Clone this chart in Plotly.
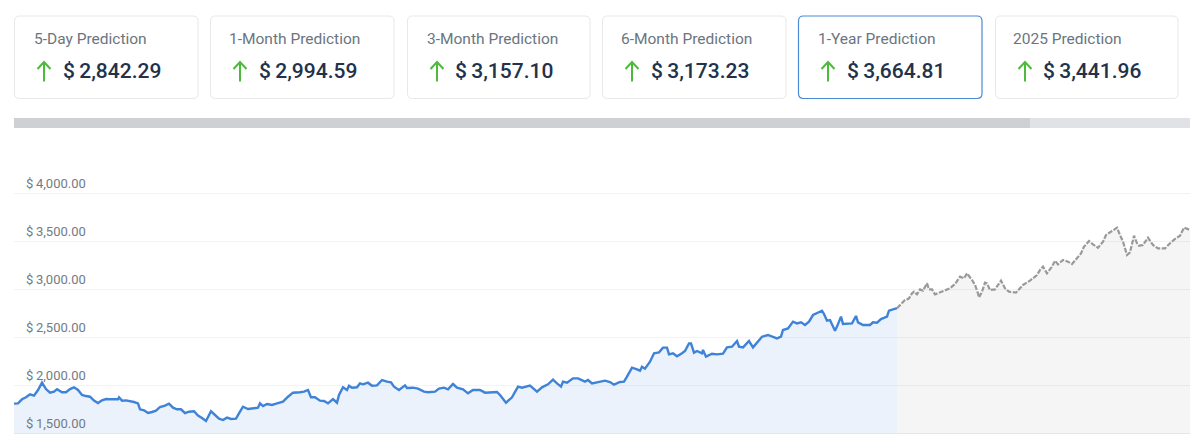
import plotly.graph_objects as go

W, H = 1200, 444
PLOT_L, PLOT_R, PLOT_T, PLOT_B = 14, 1190, 173, 433

card_titles = ["5-Day Prediction", "1-Month Prediction", "3-Month Prediction",
               "6-Month Prediction", "1-Year Prediction", "2025 Prediction"]
card_values = ["$\u20092,842.29", "$\u20092,994.59", "$\u20093,157.10", "$\u20093,173.23", "$\u20093,664.81", "$\u20093,441.96"]
selected_card = 4

tick_vals = [1500, 2000, 2500, 3000, 3500, 4000]
tick_text = ["$\u20091,500.00", "$\u20092,000.00", "$\u20092,500.00", "$\u20093,000.00", "$\u20093,500.00", "$\u20094,000.00"]

history_days = [0,4,8,12,16,20,24,28,32,36,40,43,48,52,56,60,64,68,72,76,80,84,88,92,96,100,104,105,108,112,116,120,124,126,130,134,138,142,146,151,155,159,163,167,171,175,180,184,188,192,197,201,205,209,213,217,222,226,229,234,239,244,246,249,253,258,263,269,274,279,286,
                290,294,297,301,306,310,314,319,323,325,329,333,335,338,343,346,349,354,358,363,368,373,377,380,385,391,393,399,404,410,414,421,425,430,434,439,443,449,454,459,466,471,478,483,486,492,498,504,508,516,523,528,534,539,543,547,549,553,559,564,571,574,578,586,
                591,596,600,606,610,613,618,623,626,628,631,636,640,645,649,653,655,659,663,668,671,675,677,680,683,688,689,692,698,703,709,713,718,723,725,729,735,739,743,748,754,763,767,769,774,779,783,787,791,795,799,808,810,813,816,821,823,827,829,838,842,844,849,856,859,863,867,873,875,881,883]
history_prices = [1806,1809,1851,1872,1903,1889,1948,2024,1958,1920,1931,1955,1924,1924,1958,1976,1948,1896,1885,1878,1837,1812,1840,1854,1851,1851,1851,1872,1837,1840,1833,1823,1809,1747,1736,1708,1719,1733,1771,1785,1806,1764,1747,1747,1708,1722,1726,1681,1656,1625,1726,1684,1649,1635,1660,1646,1649,1722,1774,1750,1757,1764,1809,1781,1802,1792,1809,1826,1878,1920,1924,
                  1931,1948,1872,1872,1837,1833,1809,1854,1816,1896,1976,1948,1993,1972,1976,2017,2007,2024,1993,1996,2052,2035,2028,1983,1948,1996,1969,1972,1962,1931,1924,1931,1962,1972,1955,2010,1972,1955,1913,1948,1948,1920,1924,1927,1896,1816,1872,1983,1972,1993,1931,1976,2007,2056,2017,1983,2035,2024,2069,2069,2035,2052,2017,2035,
                  2045,2031,2003,2031,2035,2087,2181,2163,2149,2191,2170,2243,2330,2340,2389,2389,2319,2330,2299,2330,2354,2434,2434,2337,2354,2330,2365,2295,2326,2319,2326,2392,2399,2458,2399,2392,2458,2392,2441,2503,2521,2486,2503,2573,2590,2660,2642,2653,2625,2660,2729,2774,2740,2670,2677,2566,2608,2712,2635,2642,2719,2653,2625,2625,2653,2649,2687,2712,2774,2798,2800]

forecast_days = [883,886,891,893,895,898,900,903,906,909,913,915,918,921,926,931,936,941,946,950,953,958,961,964,965,968,971,973,976,981,987,991,995,1002,1006,1009,1016,1023,
                 1026,1029,1033,1038,1041,1044,1049,1054,1058,1063,1067,1070,1075,1079,1084,1089,1092,1098,1103,1106,1109,1113,1116,1120,1123,1125,1129,1134,1139,1144,1151,1156,1161,1166,1170,1176]
forecast_prices = [2800,2833,2885,2892,2903,2955,2972,2944,2996,2983,3059,2996,2996,2944,2965,2979,3007,3052,3128,3111,3163,3094,3042,2955,2913,2972,3066,3059,2989,2996,3087,3007,2972,2962,3007,3042,3087,3146,
                   3198,3233,3163,3233,3295,3257,3302,3285,3260,3319,3371,3441,3500,3465,3430,3493,3562,3604,3639,3562,3493,3354,3382,3555,3476,3451,3458,3535,3458,3423,3423,3476,3521,3555,3639,3615]

FONT = "Roboto, Arial, sans-serif"
GREEN = "#4dbb3a"


def px(x):
    return (x - PLOT_L) / (PLOT_R - PLOT_L)


def py(y):
    return (PLOT_B - y) / (PLOT_B - PLOT_T)


def rounded(x0, y0, x1, y1, r=5):
    X0, X1 = px(x0), px(x1)
    Y0, Y1 = py(y0), py(y1)
    rx = r / (PLOT_R - PLOT_L)
    ry = r / (PLOT_B - PLOT_T)
    return (f"M{X0 + rx},{Y0} L{X1 - rx},{Y0} Q{X1},{Y0} {X1},{Y0 - ry} "
            f"L{X1},{Y1 + ry} Q{X1},{Y1} {X1 - rx},{Y1} L{X0 + rx},{Y1} "
            f"Q{X0},{Y1} {X0},{Y1 + ry} L{X0},{Y0 - ry} Q{X0},{Y0} {X0 + rx},{Y0} Z")


fig = go.Figure()
fig.add_trace(go.Scatter(x=history_days, y=history_prices, mode="lines", fill="tozeroy",
                         fillcolor="rgba(63,131,216,0.10)", line=dict(color="#3f83d8", width=2.4),
                         hoverinfo="skip", showlegend=False))
fig.add_trace(go.Scatter(x=forecast_days, y=forecast_prices, mode="lines", fill="tozeroy",
                         fillcolor="rgba(120,120,120,0.07)", line=dict(color="#9a9a9a", width=2.2, dash="5px,1.5px"),
                         hoverinfo="skip", showlegend=False))

card_lefts = [14, 210, 407, 602, 798, 995]
card_rights = [198, 394, 590, 786, 982, 1178]
title_offsets = [18, 17, 18, 17, 18, 16]
value_offsets = [47, 47, 46, 47, 47, 46]
shapes, annotations = [], []
for i, (left, right) in enumerate(zip(card_lefts, card_rights)):
    sel = i == selected_card
    shapes.append(dict(type="path", xref="paper", yref="paper", path=rounded(left + .5, 16, right, 98.5),
                       line=dict(color="#4a8bd6" if sel else "#e7e8ea", width=1.2 if sel else 1),
                       fillcolor="white", layer="below"))
    ax = left + 30
    shapes.append(dict(type="path", xref="paper", yref="paper",
                       path=f"M{px(ax)},{py(81.5)} L{px(ax)},{py(62)} M{px(ax - 6.5)},{py(69)} "
                            f"L{px(ax)},{py(62)} L{px(ax + 6.5)},{py(69)}",
                       line=dict(color=GREEN, width=2)))
    annotations.append(dict(text=card_titles[i], xref="paper", yref="paper", x=px(left + title_offsets[i]), y=py(39),
                            xanchor="left", yanchor="middle", showarrow=False,
                            font=dict(family=FONT, size=15.5, color="#6b7580")))
    annotations.append(dict(text=card_values[i], xref="paper", yref="paper", x=px(left + value_offsets[i]), y=py(71),
                            xanchor="left", yanchor="middle", showarrow=False,
                            font=dict(family=FONT, size=21, weight=500, color="#22324a")))

shapes.append(dict(type="rect", xref="paper", yref="paper", x0=px(14), x1=px(1190), y0=py(128), y1=py(118),
                   line=dict(width=0), fillcolor="#e1e2e5", layer="below"))
shapes.append(dict(type="rect", xref="paper", yref="paper", x0=px(14), x1=px(1030), y0=py(128), y1=py(118),
                   line=dict(width=0), fillcolor="#cfd0d4", layer="below"))

fig.update_layout(
    width=W, height=H, margin=dict(l=PLOT_L, r=W - PLOT_R, t=PLOT_T, b=H - PLOT_B, pad=0),
    paper_bgcolor="white", plot_bgcolor="white", shapes=shapes, annotations=annotations,
    showlegend=False, hovermode=False,
    xaxis=dict(range=[0, 1176], showticklabels=False, ticks="", showgrid=False, zeroline=False,
               showline=True, linecolor="#e4e6e9", linewidth=1, fixedrange=True),
    yaxis=dict(range=[1500, 4208.33], tickvals=tick_vals, ticktext=tick_text, ticks="",
               ticklabelposition="inside", ticklabelstandoff=9, ticklabelshift=-10,
               tickfont=dict(family=FONT, size=13, color="#727b85"),
               showline=False, zeroline=False, showgrid=True, gridcolor="#f3f3f4", gridwidth=1, fixedrange=True),
)
fig.write_html("out.html", config=dict(displayModeBar=False),
               post_script="document.body.style.margin='0';document.documentElement.style.overflow='hidden';")
